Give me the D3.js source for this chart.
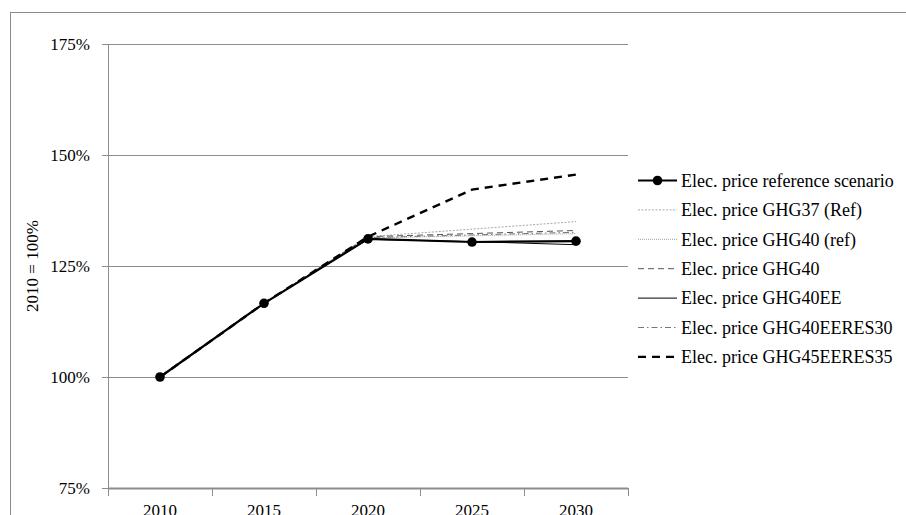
<!DOCTYPE html>
<html>
<head>
<meta charset="utf-8">
<script src="https://cdn.jsdelivr.net/npm/d3@7"></script>
<style>
  body { margin: 0; background: #fff; }
  svg { display: block; }
</style>
</head>
<body>
<svg id="chart" width="906" height="515" font-family="'Liberation Serif', 'Times New Roman', 'Liberation Sans', Arial, sans-serif"></svg>
<script>
// years on the x axis
var years = ["2010", "2015", "2020", "2025", "2030"];

// series values, 2010 = 100%
var refScenario   = [100, 116.6, 131.1, 130.4, 130.6];
var ghg37Ref      = [100, 116.6, 131.6, 133.3, 135.0];
var ghg40ref      = [100, 116.6, 131.3, 131.8, 132.3];
var ghg40         = [100, 116.6, 131.6, 132.3, 133.0];
var ghg40EE       = [100, 116.6, 131.0, 130.5, 129.8];
var ghg40EERES30  = [100, 116.6, 131.4, 132.0, 132.6];
var ghg45EERES35  = [100, 116.6, 131.6, 142.2, 145.6];

var seriesNames = [
  "Elec. price reference scenario",
  "Elec. price GHG37 (Ref)",
  "Elec. price GHG40 (ref)",
  "Elec. price GHG40",
  "Elec. price GHG40EE",
  "Elec. price GHG40EERES30",
  "Elec. price GHG45EERES35"
];

var yTicks = [75, 100, 125, 150, 175];

var svg = d3.select("#chart");

// line styles per series
var styles = [
  { color: "#000",    width: 2.2, dash: null,        dots: true },
  { color: "#a8a8a8", width: 1,   dash: "2,1.5",     dots: false },
  { color: "#9a9a9a", width: 1,   dash: "1,1",       dots: false },
  { color: "#555",    width: 1,   dash: "6,4",       dots: false },
  { color: "#000",    width: 1,   dash: null,        dots: false },
  { color: "#777",    width: 1,   dash: "6,3,1.5,3", dots: false },
  { color: "#000",    width: 2.4, dash: "8,6",       dots: false }
];

var allSeries = [refScenario, ghg37Ref, ghg40ref, ghg40, ghg40EE, ghg40EERES30, ghg45EERES35];

// outer frame (runs past the right and bottom edges)
svg.append("rect")
  .attr("x", 10.5).attr("y", 12.5)
  .attr("width", 920).attr("height", 520)
  .attr("fill", "none")
  .attr("stroke", "#8a8a8a")
  .attr("stroke-width", 1);

var x = d3.scaleBand().domain(years).range([108, 628]).padding(0);
var y = d3.scaleLinear().domain([75, 175]).range([488, 44]);
var cx = function (d) { return x(d) + x.bandwidth() / 2; };

// gridlines
svg.append("g")
  .selectAll("line")
  .data(yTicks)
  .join("line")
  .attr("x1", 102).attr("x2", 628)
  .attr("y1", function (d) { return Math.round(y(d)) + 0.5; })
  .attr("y2", function (d) { return Math.round(y(d)) + 0.5; })
  .attr("stroke", "#8c8c8c")
  .attr("stroke-width", 1);

// y axis line
svg.append("line")
  .attr("x1", 108.5).attr("x2", 108.5)
  .attr("y1", y(175)).attr("y2", y(75))
  .attr("stroke", "#8c8c8c");

// y tick labels
svg.append("g")
  .selectAll("text")
  .data(yTicks)
  .join("text")
  .attr("x", 90)
  .attr("y", function (d) { return y(d); })
  .attr("dy", "0.35em")
  .attr("text-anchor", "end")
  .style("font-size", "17px")
  .text(function (d) { return d + "%"; });

// y axis title
svg.append("text")
  .attr("transform", "translate(38,266) rotate(-90)")
  .attr("text-anchor", "middle")
  .style("font-size", "17px")
  .text("2010 = 100%");

// x axis
svg.append("line")
  .attr("x1", 108).attr("x2", 628)
  .attr("y1", 488.5).attr("y2", 488.5)
  .attr("stroke", "#8c8c8c")
  .attr("stroke-width", 2);

var edges = years.map(function (d) { return x(d); }).concat([x.range()[1]]);
svg.append("g")
  .selectAll("line")
  .data(edges)
  .join("line")
  .attr("x1", function (d) { return Math.round(d) + 0.5; })
  .attr("x2", function (d) { return Math.round(d) + 0.5; })
  .attr("y1", 488).attr("y2", 496)
  .attr("stroke", "#8c8c8c");

svg.append("g")
  .selectAll("text")
  .data(years)
  .join("text")
  .attr("x", cx)
  .attr("y", 516)
  .attr("text-anchor", "middle")
  .style("font-size", "17px")
  .text(function (d) { return d; });

// lines
var line = d3.line()
  .x(function (d, i) { return cx(years[i]); })
  .y(function (d) { return y(d); });

var drawOrder = [1, 2, 3, 5, 4, 6, 0];
drawOrder.forEach(function (k) {
  var s = styles[k];
  svg.append("path")
    .datum(allSeries[k])
    .attr("d", line)
    .attr("fill", "none")
    .attr("stroke", s.color)
    .attr("stroke-width", s.width)
    .attr("stroke-dasharray", s.dash);
  if (s.dots) {
    svg.append("g")
      .selectAll("circle")
      .data(allSeries[k])
      .join("circle")
      .attr("cx", function (d, i) { return cx(years[i]); })
      .attr("cy", function (d) { return y(d); })
      .attr("r", 4.8)
      .attr("fill", "#000");
  }
});

// legend
var legend = svg.append("g");
seriesNames.forEach(function (name, i) {
  var s = styles[i];
  var ly = 180.5 + i * 29.4;
  legend.append("line")
    .attr("x1", 638).attr("x2", 677)
    .attr("y1", ly).attr("y2", ly)
    .attr("stroke", s.color)
    .attr("stroke-width", s.width)
    .attr("stroke-dasharray", s.dash);
  if (s.dots) {
    legend.append("circle")
      .attr("cx", 657.5).attr("cy", ly).attr("r", 4.8).attr("fill", "#000");
  }
  legend.append("text")
    .attr("x", 681)
    .attr("y", ly)
    .attr("dy", "0.35em")
    .style("font-size", "18px")
    .text(name);
});
</script>
</body>
</html>
